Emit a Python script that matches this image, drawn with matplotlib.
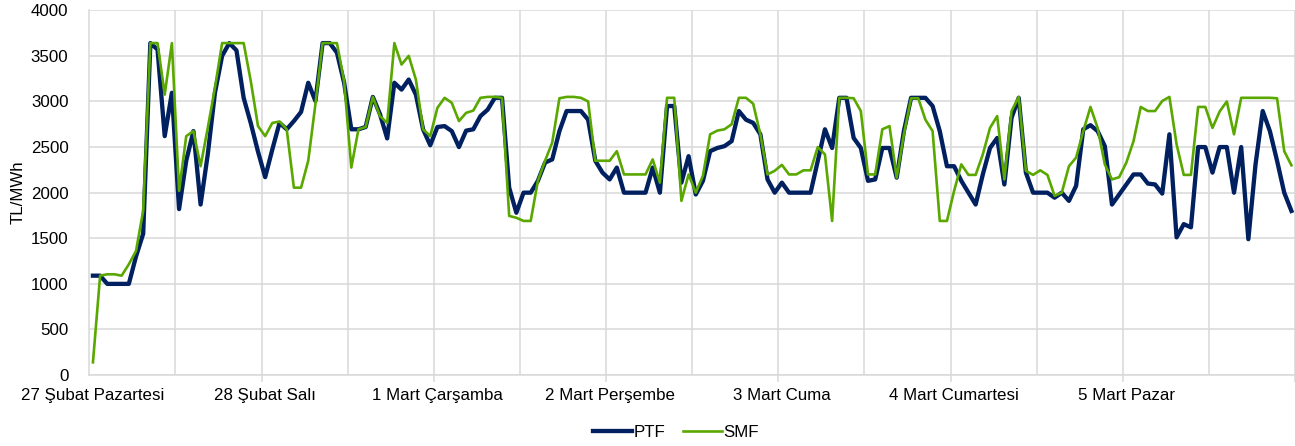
import matplotlib
matplotlib.use('Agg')
import matplotlib.pyplot as plt
import numpy as np

plt.rcParams['font.family'] = ['Liberation Sans', 'DejaVu Sans']

# ----------------------------------------------------------------------------
# hourly prices, 27 Feb - 5 Mar (TL/MWh)

day_labels = ['27 Şubat Pazartesi', '28 Şubat Salı', '1 Mart Çarşamba', '2 Mart Perşembe',
              '3 Mart Cuma', '4 Mart Cumartesi', '5 Mart Pazar']

ptf = [1090, 1090, 1000, 1000, 1000, 1000, 1300, 1550, 3640, 3570, 2620, 3095,
       1820, 2350, 2675, 1870, 2420, 3095, 3500, 3640, 3560, 3040, 2760, 2450,
       2170, 2475, 2765, 2695, 2785, 2885, 3205, 3005, 3640, 3640, 3535, 3205,
       2695, 2695, 2720, 3050, 2860, 2595, 3205, 3130, 3240, 3075, 2695, 2520,
       2720, 2730, 2675, 2500, 2680, 2695, 2840, 2910, 3040, 3040, 2055, 1780,
       2000, 2000, 2130, 2330, 2365, 2675, 2895, 2895, 2895, 2800, 2350, 2220,
       2145, 2275, 2000, 2000, 2000, 2000, 2275, 2000, 2950, 2950, 2110, 2400,
       1980, 2130, 2455, 2490, 2510, 2565, 2895, 2800, 2765, 2640, 2145, 2000,
       2110, 2000, 2000, 2000, 2000, 2350, 2695, 2490, 3040, 3040, 2600, 2490,
       2130, 2145, 2490, 2490, 2165, 2675, 3040, 3040, 3040, 2950, 2675, 2290,
       2290, 2130, 2000, 1870, 2200, 2490, 2600, 2090, 2820, 3040, 2220, 2000,
       2000, 2000, 1945, 2000, 1910, 2075, 2695, 2740, 2675, 2510, 1870, 1980,
       2090, 2200, 2200, 2100, 2090, 1990, 2640, 1510, 1655, 1620, 2500, 2500,
       2220, 2500, 2500, 2000, 2500, 1490, 2310, 2895, 2675, 2350, 2000, 1800]

smf = [140, 1090, 1105, 1105, 1090, 1215, 1360, 1800, 3640, 3640, 3075, 3640,
       2020, 2620, 2675, 2290, 2710, 3150, 3640, 3640, 3640, 3640, 3220, 2730,
       2620, 2765, 2780, 2695, 2055, 2055, 2350, 2970, 3640, 3640, 3640, 3220,
       2275, 2695, 2720, 3050, 2840, 2765, 3640, 3405, 3500, 3240, 2695, 2620,
       2930, 3040, 2985, 2785, 2875, 2900, 3040, 3050, 3050, 3040, 1745, 1725,
       1690, 1690, 2130, 2350, 2550, 3035, 3050, 3050, 3040, 3000, 2350, 2350,
       2350, 2455, 2200, 2200, 2200, 2200, 2365, 2110, 3040, 3040, 1910, 2200,
       2000, 2185, 2640, 2680, 2695, 2750, 3040, 3040, 2975, 2640, 2200, 2240,
       2305, 2200, 2200, 2245, 2245, 2500, 2420, 1690, 3040, 3040, 3035, 2895,
       2200, 2200, 2695, 2730, 2165, 2640, 3035, 3035, 2800, 2675, 1690, 1690,
       2020, 2310, 2195, 2195, 2420, 2710, 2840, 2145, 2895, 3050, 2240, 2195,
       2245, 2195, 1965, 2000, 2290, 2385, 2675, 2940, 2710, 2310, 2145, 2170,
       2330, 2565, 2940, 2895, 2895, 3005, 3050, 2530, 2195, 2195, 2940, 2940,
       2710, 2890, 3000, 2640, 3040, 3040, 3040, 3040, 3040, 3035, 2455, 2300]

hours = np.arange(len(ptf))

# ----------------------------------------------------------------------------

fig = plt.figure(figsize=(12.95, 4.46), dpi=100)
ax = fig.add_axes([0.069, 0.159, 0.931, 0.818])

grid_col = '#d9d9d9'
ax.plot(hours, ptf, color='#002060', lw=3.1, label='PTF', solid_joinstyle='round', zorder=3)
ax.plot(hours, smf, color='#5aa700', lw=1.9, label='SMF', solid_joinstyle='round', zorder=4)

ax.set_xlim(-0.5, 166.4)
ax.set_ylim(0, 4000)
ax.set_yticks(np.arange(0, 4001, 500))
ax.set_xticks(np.arange(0, len(ptf), 24))
ax.set_xticklabels(day_labels)
ax.set_xticks(np.arange(11.5, len(ptf), 12), minor=True)

ax.grid(axis='y', color=grid_col, lw=1.1)
ax.grid(axis='x', which='minor', color=grid_col, lw=1.1)
ax.set_axisbelow(True)

ax.tick_params(axis='x', which='major', length=0, pad=9, labelsize=12.2)
ax.tick_params(axis='x', which='minor', length=0)
ax.tick_params(axis='y', length=0, pad=15, labelsize=12.2)

# small tick marks at day boundaries
sec = ax.secondary_xaxis('bottom')
sec.set_xticks(np.arange(23.5, len(ptf), 24))
sec.set_xticklabels([])
sec.tick_params(length=5, color=grid_col, width=1.1)
sec.spines['bottom'].set_visible(False)

for s in ['top', 'right']:
    ax.spines[s].set_visible(False)
for s in ['left', 'bottom']:
    ax.spines[s].set_color(grid_col)
    ax.spines[s].set_linewidth(1.1)

ax.set_ylabel('TL/MWh', fontsize=12.2, labelpad=4)

fig.legend(loc='center', bbox_to_anchor=(0.522, 0.03), ncol=2, frameon=False,
           fontsize=12.2, handlelength=2.3, handletextpad=0.1, columnspacing=1.0)

fig.savefig('out.png', dpi=100)
